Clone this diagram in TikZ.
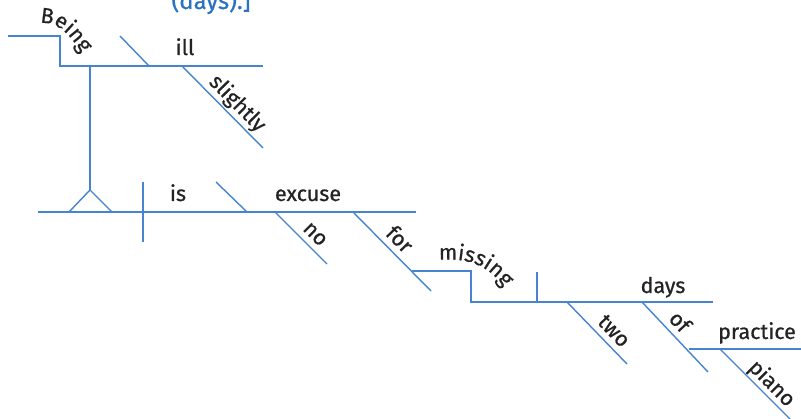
\documentclass[tikz,border=0pt]{standalone}
\usepackage{fontspec}
\setmainfont{Fira Sans}[FakeBold=0.7]
\usetikzlibrary{decorations.text}
\definecolor{ln}{RGB}{70,132,208}
\definecolor{tx}{RGB}{35,35,35}
\definecolor{bl}{RGB}{43,115,194}
\begin{document}
\begin{tikzpicture}[x=1pt,y=-1pt,
  dl/.style={draw=ln,line width=1.4pt},
  word/.style={text=tx,font=\fontsize{21.5}{21.5}\selectfont,inner sep=0pt,text depth=0pt,anchor=base},
  sword/.style={text=tx,font=\fontsize{21.5}{21.5}\selectfont,inner sep=0pt,text depth=0pt,sloped,above=#1},
  sword/.default=6pt]
\useasboundingbox (0,0) rectangle (801,419);
\clip (0,0) rectangle (801,419);
% clipped caption above
\node[text=bl,font=\fontsize{24}{24}\selectfont,anchor=base] (cap) at (211,9) {(days).]};
% coordinates
\coordinate (b0) at (8,36); \coordinate (b1) at (60,36); \coordinate (b2) at (60,66); \coordinate (b3) at (263,66);
\coordinate (s1) at (120,36); \coordinate (s2) at (149,66);
\coordinate (sl1) at (182,66); \coordinate (sl2) at (263,148);
\coordinate (st1) at (90,66); \coordinate (st2) at (90,190);
\coordinate (pl) at (69,212); \coordinate (pr) at (112,212);
\coordinate (m0) at (38,212); \coordinate (m1) at (416,212);
\coordinate (d1) at (143,182); \coordinate (d2) at (143,242);
\coordinate (q1) at (216,182); \coordinate (q2) at (247,212);
\coordinate (n1) at (275,212); \coordinate (n2) at (327,264);
\coordinate (f1) at (353,212); \coordinate (f2) at (431,291);
\coordinate (g0) at (412,271); \coordinate (g1) at (471,271); \coordinate (g2) at (471,302); \coordinate (g3) at (713,302);
\coordinate (v1) at (537,272); \coordinate (v2) at (537,302);
\coordinate (t1) at (567,302); \coordinate (t2) at (627,364);
\coordinate (o1) at (642,302); \coordinate (o2) at (708,372);
\coordinate (p0) at (689,349); \coordinate (p1) at (801,349);
\coordinate (pi1) at (720,349); \coordinate (pi2) at (792,421);
% lines
\draw[dl] (b0) -- (b1) -- (b2) -- (b3);
\draw[dl] (s1) -- (s2);
\draw[dl] (sl1) -- (sl2) node[sword,pos=0.57] (wslightly) {slightly};
\draw[dl] (st1) -- (st2);
\draw[dl] (pl) -- (st2) -- (pr);
\draw[dl] (m0) -- (m1);
\draw[dl] (d1) -- (d2);
\draw[dl] (q1) -- (q2);
\draw[dl] (n1) -- (n2) node[sword,pos=0.6] (wno) {no};
\draw[dl] (f1) -- (f2) node[sword,pos=0.47] (wfor) {for};
\draw[dl] (g0) -- (g1) -- (g2) -- (g3);
\draw[dl] (v1) -- (v2);
\draw[dl] (t1) -- (t2) node[sword,pos=0.62] (wtwo) {two};
\draw[dl] (o1) -- (o2) node[sword,pos=0.42] (wof) {of};
\draw[dl] (p0) -- (p1);
\draw[dl] (pi1) -- (pi2) node[sword=5pt,pos=0.6] (wpiano) {piano};
% horizontal words
\node[word] (will) at (185,55) {ill};
\node[word] (wis) at (178,201) {is};
\node[word] (wexcuse) at (308,201) {excuse};
\node[word] (wdays) at (663,293) {days};
\node[word] (wpractice) at (757,339) {practice};
% curved words
\path[decorate,decoration={text along path,text align=left,
  text={|\fontsize{21.5}{21.5}\selectfont\color{tx}|Being}}]
  (40,23) .. controls (56,22) and (68,31) .. (82,54);
\path[decorate,decoration={text along path,text align=left,
  text={|\fontsize{21.5}{21.5}\selectfont\color{tx}|missing}}]
  (439,260) .. controls (463,258) and (487,262) .. (504,288);
\end{tikzpicture}
\end{document}
